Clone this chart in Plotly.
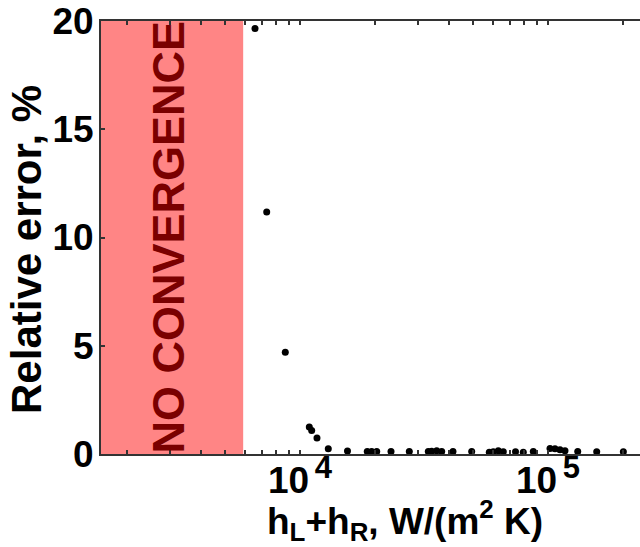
import plotly.graph_objects as go

# Data
h_sum = [6585, 7341, 8724, 10902, 11146, 11708, 13004, 15542, 18676, 19454,
         20389, 23280, 27590, 32910, 33960, 35580, 37270, 41390, 49240, 57990,
         60180, 63040, 66040, 73960, 79500, 87240, 101880, 106700, 111800, 117100,
         131800, 157200, 201300]
rel_err = [19.65, 11.18, 4.70, 1.25, 1.09, 0.74, 0.24, 0.14, 0.11, 0.12,
           0.11, 0.12, 0.12, 0.12, 0.13, 0.15, 0.12, 0.12, 0.12, 0.08,
           0.10, 0.15, 0.10, 0.10, 0.08, 0.11, 0.25, 0.24, 0.20, 0.15,
           0.11, 0.10, 0.10]

x_tickvals = [2000, 3000, 4000, 5000, 6000, 7000, 8000, 9000,
              10000, 20000, 30000, 40000, 50000, 60000, 70000, 80000, 90000,
              100000, 200000]
x_ticktext = ["" for _ in x_tickvals]
x_ticktext[x_tickvals.index(10000)] = ("10<span style='font-size:20px'> </span>"
                                       "<sup><span style='font-size:31px'>4</span></sup>")
x_ticktext[x_tickvals.index(100000)] = ("10<span style='font-size:20px'> </span>"
                                        "<sup><span style='font-size:31px'>5</span></sup>")
y_tickvals = [0, 5, 10, 15, 20]

x_range_log = [3.1976, 5.371]
y_range = [0, 20]
no_conv_x = [1576, 5900]

FONT = "Liberation Sans, Arial, sans-serif"

fig = go.Figure()
fig.add_trace(go.Scatter(
    x=h_sum, y=rel_err, mode="markers",
    marker=dict(color="black", size=7),
    showlegend=False, cliponaxis=False,
))

fig.add_shape(type="rect", xref="x", yref="y",
              x0=no_conv_x[0], x1=no_conv_x[1], y0=y_range[0], y1=y_range[1],
              fillcolor="#ff8585", line=dict(width=0), layer="below")

fig.add_annotation(x=3.468, y=10, xref="x", yref="y",
                   text="NO CONVERGENCE", textangle=-90, showarrow=False,
                   font=dict(family=FONT, size=45, color="#7a0000", weight="bold"))

fig.add_annotation(x=-0.1373, y=0.4735, xref="paper", yref="paper",
                   text="Relative error, %", textangle=-90, showarrow=False,
                   xanchor="center", yanchor="middle",
                   font=dict(family=FONT, size=42, color="black", weight="bold"))

fig.add_annotation(x=0.564, y=-0.1535, xref="paper", yref="paper",
                   text="h<sub>L</sub>+h<sub>R</sub>, W/(m<sup>2</sup> K)", showarrow=False,
                   xanchor="center", yanchor="middle",
                   font=dict(family=FONT, size=37, color="black", weight="bold"))

fig.update_layout(
    template="none",
    width=640, height=547,
    margin=dict(l=101, r=0, t=21, b=93, autoexpand=False),
    paper_bgcolor="white", plot_bgcolor="white",
    font=dict(family=FONT, color="black"),
    xaxis=dict(type="log", range=x_range_log, tickvals=x_tickvals, ticktext=x_ticktext,
               automargin=False, ticklabelstandoff=-7,
               ticks="inside", ticklen=4, tickwidth=1.5, tickcolor="#333",
               showline=True, linecolor="#333", linewidth=2, mirror="ticks",
               showgrid=False, zeroline=False,
               tickfont=dict(family=FONT, size=37, color="black", weight="bold")),
    yaxis=dict(range=y_range, tickvals=y_tickvals, automargin=False,
               ticklabelstandoff=-2,
               ticks="inside", ticklen=4, tickwidth=1.5, tickcolor="#333",
               showline=True, linecolor="#333", linewidth=2, mirror=False,
               showgrid=False, zeroline=False,
               tickfont=dict(family=FONT, size=37, color="black", weight="bold")),
)

fig.write_html("out.html", config={"displayModeBar": False},
               post_script="document.body.style.margin='0';document.body.style.overflow='hidden';")
